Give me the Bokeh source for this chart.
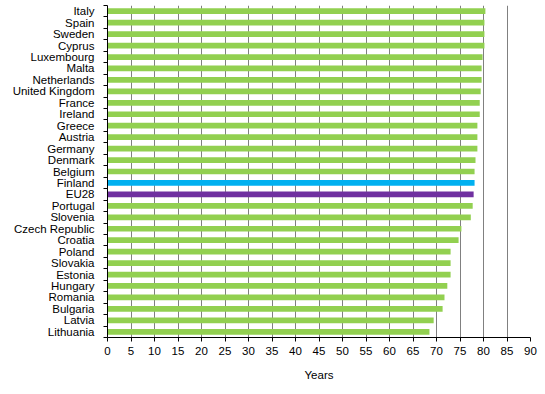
from bokeh.plotting import figure
from bokeh.models import ColumnDataSource, FixedTicker, Range1d
from bokeh.embed import file_html
from bokeh.resources import INLINE

countries = ["Italy", "Spain", "Sweden", "Cyprus", "Luxembourg", "Malta", "Netherlands",
             "United Kingdom", "France", "Ireland", "Greece", "Austria", "Germany", "Denmark",
             "Belgium", "Finland", "EU28", "Portugal", "Slovenia", "Czech Republic", "Croatia",
             "Poland", "Slovakia", "Estonia", "Hungary", "Romania", "Bulgaria", "Latvia", "Lithuania"]
years = [80.4, 80.2, 80.2, 80.2, 79.8, 79.6, 79.6, 79.4, 79.2, 79.2, 78.7, 78.7, 78.7, 78.3,
         78.1, 78.1, 77.9, 77.7, 77.3, 75.3, 74.7, 73.0, 73.0, 73.0, 72.3, 71.7, 71.3, 69.4, 68.5]
x_ticks = list(range(0, 95, 5))

GREEN = "#92D050"
BLUE = "#00B0F0"
PURPLE = "#7030A0"
colors = [BLUE if c == "Finland" else PURPLE if c == "EU28" else GREEN for c in countries]

n = len(countries)
ypos = [n - 1 - i for i in range(n)]
src = ColumnDataSource(dict(y=ypos, x=years, color=colors, name=countries))

p = figure(width=545, height=383, output_backend="svg", toolbar_location=None,
           x_range=Range1d(0, 90), y_range=Range1d(-0.5, n - 0.5),
           min_border_top=5, min_border_left=107, min_border_right=15, min_border_bottom=10)
p.outline_line_color = None
p.background_fill_color = "white"
p.border_fill_color = "white"

p.hbar(y="y", left=0, right="x", height=0.5, color="color", line_color=None, source=src)

FONT = "Liberation Sans"
# x axis
p.xaxis.ticker = FixedTicker(ticks=x_ticks)
p.xaxis.axis_label = "Years"
p.xaxis.axis_label_text_font = FONT
p.xaxis.axis_label_text_font_style = "normal"
p.xaxis.axis_label_text_font_size = "11.5px"
p.xaxis.axis_label_text_color = "black"
p.xaxis.axis_label_standoff = 11
p.xaxis.major_label_text_font = FONT
p.xaxis.major_label_text_font_size = "11.5px"
p.xaxis.major_label_text_color = "black"
p.xaxis.major_label_standoff = 5
p.xaxis.major_tick_in = 0
p.xaxis.major_tick_out = 4
p.xaxis.minor_tick_line_color = None
p.xaxis.axis_line_color = "black"
p.xaxis.major_tick_line_color = "black"

# y axis
p.yaxis.ticker = FixedTicker(ticks=ypos, minor_ticks=[v - 0.5 for v in range(n + 1)])
p.yaxis.major_label_overrides = {yv: c for yv, c in zip(ypos, countries)}
p.yaxis.major_label_text_font = FONT
p.yaxis.major_label_text_font_size = "11.5px"
p.yaxis.major_label_text_color = "black"
p.yaxis.major_label_standoff = 9
p.yaxis.major_tick_in = 0
p.yaxis.major_tick_out = 0
p.yaxis.minor_tick_in = 0
p.yaxis.minor_tick_out = 4
p.yaxis.minor_tick_line_color = "black"
p.yaxis.axis_line_color = "black"

p.ygrid.grid_line_color = None
p.xgrid.grid_line_color = "#808080"
p.xgrid.grid_line_width = 1

open("out.html", "w").write(file_html(p, INLINE))
